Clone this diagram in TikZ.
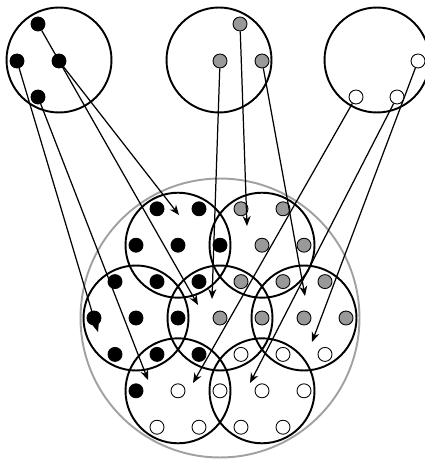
\documentclass[tikz,border=0pt]{standalone}
\usepackage{tikz}
\usetikzlibrary{arrows.meta}

\begin{document}
\begin{tikzpicture}[
    x=0.02cm, y=-0.02cm,
    group/.style = {circle, draw=black, line width=1.1pt,
                    minimum size=2.1cm, inner sep=0pt},
    outer/.style = {circle, draw=black!37, line width=1.1pt,
                    minimum size=5.58cm, inner sep=0pt},
    dot/.style   = {circle, draw=black, line width=0.5pt,
                    minimum size=0.28cm, inner sep=0pt},
    bdot/.style  = {dot, fill=black},
    gdot/.style  = {dot, fill=black!40},
    wdot/.style  = {dot, fill=white},
    link/.style  = {-{Stealth[length=2mm, width=1.6mm]}, line width=0.7pt},
]
\useasboundingbox (0,0) rectangle (425,459);

% Source groups (top row)
\node[group] (ga) at (59,60)  {};
\node[group] (gb) at (219,60) {};
\node[group] (gc) at (377,60) {};

\node[bdot] (a1) at (38,24) {};
\node[bdot] (a2) at (17,61) {};
\node[bdot] (a3) at (59,61) {};
\node[bdot] (a4) at (38,97) {};
\node[gdot] (b1) at (240,24) {};
\node[gdot] (b2) at (220,61) {};
\node[gdot] (b3) at (262,61) {};
\node[wdot] (c1) at (418,61) {};
\node[wdot] (c2) at (356,97) {};
\node[wdot] (c3) at (397,97) {};

% Enclosing circle
\node[outer] (all) at (220,318) {};

% Seven overlapping groups
\foreach \i/\j [count=\k] in {0/-2, 2/-2, -2/0, 0/0, 2/0, -2/2, 0/2}
  \node[group] (h\k) at ({220+42*\i+21*\j},{318+36.4*\j}) {};

% Lattice of members
\foreach \i/\j [count=\k] in {0/-3, 1/-3, -1/-2, 0/-2, 1/-2, -2/-1, -1/-1, 0/-1,
                              -3/0, -2/0, -1/0, -3/1, -2/1, -1/1, -3/2}
  \node[bdot] (pb\k) at ({220+42*\i+21*\j},{318+36.4*\j}) {};
\foreach \i/\j [count=\k] in {2/-3, 3/-3, 2/-2, 3/-2, 1/-1, 2/-1, 3/-1,
                              0/0, 1/0, 2/0, 3/0}
  \node[gdot] (pg\k) at ({220+42*\i+21*\j},{318+36.4*\j}) {};
\foreach \i/\j [count=\k] in {0/1, 1/1, 2/1, -2/2, -1/2, 0/2, 1/2,
                              -3/3, -2/3, -1/3, 0/3}
  \node[wdot] (pw\k) at ({220+42*\i+21*\j},{318+36.4*\j}) {};

% Arrow targets
\coordinate (e1)  at (198,305);
\coordinate (e2)  at (179,215);
\coordinate (e3)  at (98,332);
\coordinate (e4)  at (148,380);
\coordinate (e5)  at (247,226);
\coordinate (e6)  at (212,299);
\coordinate (e7)  at (305,296);
\coordinate (e8)  at (193,383);
\coordinate (e9)  at (250,383);
\coordinate (e10) at (312,342);

% Mappings
\draw[link] (a1) -- (e1);
\draw[link] (a3) -- (e2);
\draw[link] (a2) -- (e3);
\draw[link] (a4) -- (e4);
\draw[link] (b1) -- (e5);
\draw[link] (b2) -- (e6);
\draw[link] (b3) -- (e7);
\draw[link] (c2) -- (e8);
\draw[link] (c3) -- (e9);
\draw[link] (c1) -- (e10);

\end{tikzpicture}
\end{document}
